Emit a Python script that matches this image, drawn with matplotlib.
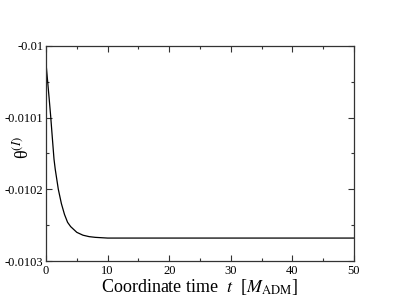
import numpy as np
import matplotlib
matplotlib.use("Agg")
import matplotlib.pyplot as plt
from matplotlib.ticker import MultipleLocator, FuncFormatter

# values
t_vals = [0, 0.25, 0.5, 0.75, 1.0, 1.3, 1.5, 2.0, 2.5, 3.0, 3.5, 4.0,
          5.0, 6.0, 7.0, 8.0, 10, 15, 20, 30, 40, 50]
theta_vals = [-0.010024, -0.010048, -0.010072, -0.010097, -0.010125,
              -0.010158, -0.010172, -0.010200, -0.010220, -0.010235,
              -0.010246, -0.010252, -0.010260, -0.010264, -0.010266,
              -0.010267, -0.010268, -0.010268, -0.010268, -0.010268,
              -0.010268, -0.010268]

plt.rcParams['font.family'] = ['Liberation Serif', 'DejaVu Serif']
plt.rcParams['mathtext.fontset'] = 'stix'

fig = plt.figure(figsize=(3.99, 3.08), dpi=100)
ax = fig.add_axes([46 / 399, 47 / 308, 308 / 399, 215 / 308])

ax.plot(t_vals, theta_vals, color='black', lw=0.9)

ax.set_xlim(0, 50)
ax.set_ylim(-0.0103, -0.01)
ax.xaxis.set_major_locator(MultipleLocator(10))
ax.xaxis.set_minor_locator(MultipleLocator(5))
ax.yaxis.set_major_locator(MultipleLocator(0.0001))
ax.yaxis.set_minor_locator(MultipleLocator(0.00005))
ax.yaxis.set_major_formatter(FuncFormatter(lambda v, p: "%g" % round(v, 6)))
ax.xaxis.set_major_formatter(FuncFormatter(lambda v, p: "%g" % v))

ax.tick_params(which='both', direction='in', top=True, right=True,
               labelsize=9, width=0.8, color='#333333')
ax.tick_params(which='major', length=4.3)
ax.tick_params(which='minor', length=2.2)
ax.tick_params(axis='x', pad=3)
ax.tick_params(axis='y', pad=2)
for s in ax.spines.values():
    s.set_linewidth(0.9)
    s.set_color('#333333')

ax.set_xlabel("Coordinate time  $t$  [$M_{\\rm ADM}$]", fontsize=13, labelpad=0)
# y label placed by hand, the tick labels are wide
fig.text(22 / 399, 1 - 148 / 308, "θ$^{(I)}$", fontsize=13, rotation=90,
         ha='center', va='center')

fig.savefig("out.png", dpi=100)
